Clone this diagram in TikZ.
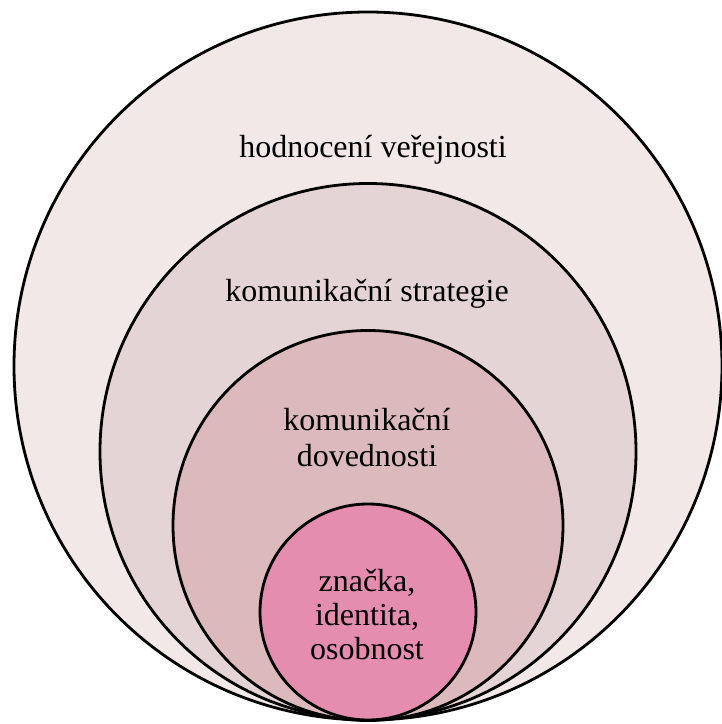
\documentclass[tikz,border=0pt]{standalone}
\usepackage{fontspec}
\setmainfont{Liberation Serif}
\definecolor{cOne}{HTML}{F2E8E8}
\definecolor{cTwo}{HTML}{E4D4D5}
\definecolor{cThree}{HTML}{DBB9BC}
\definecolor{cFour}{HTML}{E58DAE}
\begin{document}
\begin{tikzpicture}[x=1pt,y=1pt,
  ring/.style={draw=black,line width=2.8pt},
  lbl/.style={align=center,font=\fontsize{32}{36}\selectfont,inner sep=0pt}]
\useasboundingbox (0,0) rectangle (722,724);
\begin{scope}
\clip (0,0) rectangle (722,724);
\draw[ring,fill=cOne] (368,358) circle (354);
\draw[ring,fill=cTwo] (368,272.5) circle (268);
\draw[ring,fill=cThree] (368,198.5) circle (195);
\draw[ring,fill=cFour] (368,112) circle (108);
\end{scope}
\node[lbl,anchor=base] (t1) at (373,566) {hodnocení veřejnosti};
\node[lbl,anchor=base] (t2) at (367,422) {komunikační strategie};
\node[lbl,anchor=base] (t3) at (367,257) {komunikační\\dovednosti};
\node[lbl,anchor=base,font=\fontsize{32}{34}\selectfont] (t4) at (367,64) {značka,\\identita,\\osobnost};
\end{tikzpicture}
\end{document}
